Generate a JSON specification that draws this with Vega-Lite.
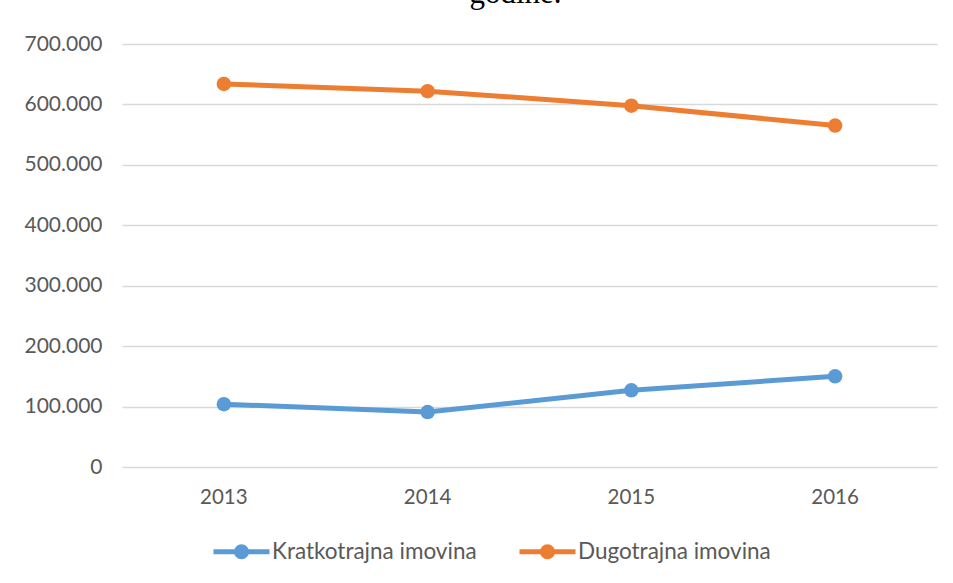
{
  "$schema": "https://vega.github.io/schema/vega-lite/v6.json",
  "autosize": "none",
  "width": 815,
  "height": 423,
  "padding": {"left": 122, "top": 44, "right": 16, "bottom": 116},
  "background": "white",
  "title": {
    "text": "godine.",
    "font": "Liberation Serif",
    "fontSize": 31,
    "fontWeight": "normal",
    "color": "#000000",
    "anchor": "middle",
    "baseline": "alphabetic",
    "offset": 0,
    "dy": 1,
    "dx": -14
  },
  "data": {
    "values": [
      {"year": "2013", "series": "Kratkotrajna imovina", "value": 104000},
      {"year": "2014", "series": "Kratkotrajna imovina", "value": 91000},
      {"year": "2015", "series": "Kratkotrajna imovina", "value": 127000},
      {"year": "2016", "series": "Kratkotrajna imovina", "value": 150000},
      {"year": "2013", "series": "Dugotrajna imovina", "value": 634000},
      {"year": "2014", "series": "Dugotrajna imovina", "value": 622000},
      {"year": "2015", "series": "Dugotrajna imovina", "value": 598000},
      {"year": "2016", "series": "Dugotrajna imovina", "value": 565000}
    ]
  },
  "encoding": {
    "x": {
      "field": "year",
      "type": "ordinal",
      "scale": {"type": "band", "paddingInner": 0, "paddingOuter": 0},
      "axis": {
        "title": null,
        "labelAngle": 0,
        "domain": false,
        "ticks": false,
        "labelPadding": 20,
        "labelFont": "Lato",
        "labelFontSize": 20.5,
        "labelColor": "#595959"
      }
    },
    "y": {
      "field": "value",
      "type": "quantitative",
      "scale": {"domain": [0, 700000]},
      "axis": {
        "title": null,
        "values": [0, 100000, 200000, 300000, 400000, 500000, 600000, 700000],
        "format": ",.0f",
        "labelExpr": "replace(datum.label, /,/g, '.')",
        "domain": false,
        "ticks": false,
        "labelPadding": 20,
        "labelFont": "Lato",
        "labelFontSize": 21,
        "labelColor": "#595959",
        "gridColor": "#D9D9D9",
        "gridWidth": 1.5
      }
    },
    "color": {
      "field": "series",
      "type": "nominal",
      "sort": ["Kratkotrajna imovina", "Dugotrajna imovina"],
      "scale": {"domain": ["Kratkotrajna imovina", "Dugotrajna imovina"], "range": ["#5B9BD5", "#ED7D31"]},
      "legend": {
        "title": null,
        "orient": "none",
        "legendX": 89,
        "legendY": 477,
        "direction": "horizontal",
        "symbolType": "M-1,0H1M-0.18,0A0.18,0.18 0 1,1 0.18,0A0.18,0.18 0 1,1 -0.18,0Z",
        "symbolSize": 3136,
        "symbolStrokeWidth": 5,
        "labelFont": "Lato",
        "labelFontSize": 22.5,
        "labelColor": "#595959",
        "labelLimit": 0,
        "labelOffset": 0,
        "columnPadding": 32
      }
    }
  },
  "layer": [
    {"mark": {"type": "line", "strokeWidth": 5, "strokeCap": "round"}},
    {"mark": {"type": "point", "filled": true, "size": 210, "opacity": 1, "shape": "circle"}}
  ],
  "config": {"view": {"stroke": null}}
}
